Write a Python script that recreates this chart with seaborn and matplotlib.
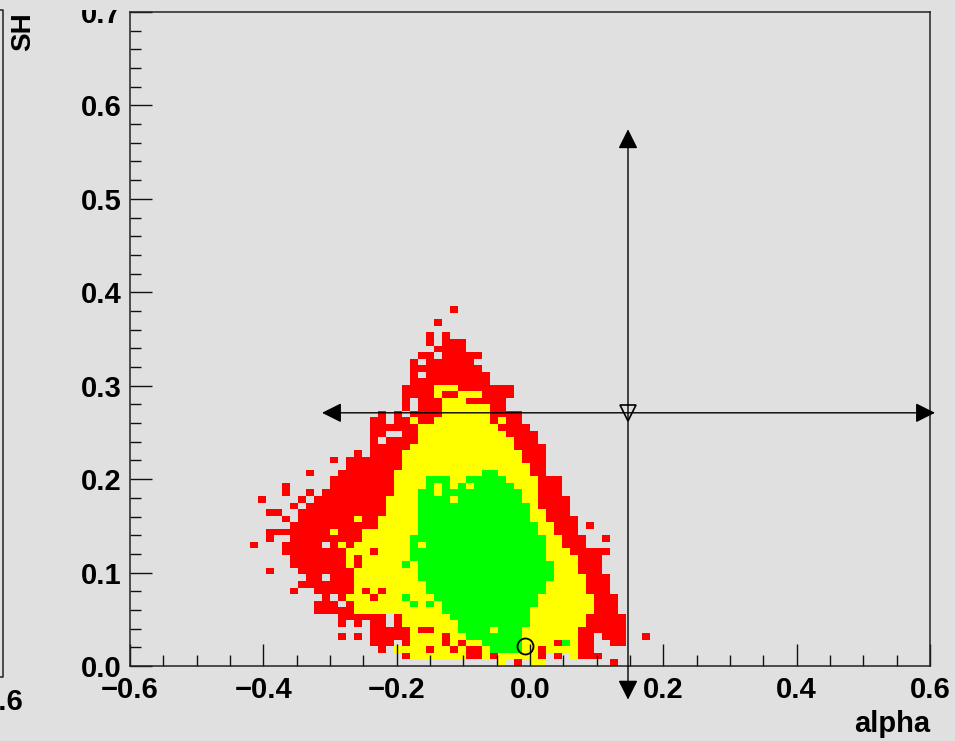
import numpy as np
import pandas as pd
import matplotlib
matplotlib.use("Agg")
import matplotlib.pyplot as plt
from matplotlib.colors import ListedColormap
from matplotlib.lines import Line2D
from matplotlib.patches import Rectangle
from matplotlib.ticker import MultipleLocator, FuncFormatter
import seaborn as sns

# ---------------- data ----------------
# 2D histogram: 100 x-bins over [-0.6, 0.6], 100 y-bins over [0, 0.7]
X_LO, X_HI, NX = -0.6, 0.6, 100
Y_LO, Y_HI, NY = 0.0, 0.7, 100
COL0 = 15  # x-bin index of column 0 in the rows below

# one entry per y-bin, bottom (bin 0) to top (bin 54)
# start column + run-length pattern: r = red (1), y = yellow (2), g = green (3), . = empty
row_start = [31, 19, 16, 15, 11, 15, 11, 11, 8, 8,
             9, 5, 6, 7, 2, 5, 5, 4, 0, 2,
             2, 5, 4, 2, 5, 1, 4, 4, 10, 7,
             12, 10, 13, 15, 15, 15, 15, 15, 16, 19,
             19, 19, 19, 20, 20, 20, 20, 21, 23, 22,
             22, 0, 23, 0, 25]
row_cells = [
    "y.r.2y8.r",                 # 0
    "r7y2ryr5yr.r.yr2r",         # 1
    "r.4yr2yry2ry4g2yr4y2r",     # 2
    "3r.r4yryr2y5g4yrgy2r2.2r",  # 3
    "r.r.5r4yr2y7g7y2r.3r2.r",   # 4
    "5ry2r3y4gy3g7y6r",          # 5
    "r.r.2r.r7y9g7y5r",          # 6
    "6r.r6y10g7y5r",             # 7
    "5r11y11g8y3r",              # 8
    "3r.r7ygygy12g7y3r",         # 9
    "r.r3yr3yg3y13g7y3r",        # 10
    "r2.5ryryr5y15g5y3r",        # 11
    "7r9y15g5y3r",               # 12
    "2r.3r8y17g4y3r",            # 13
    "r3.7r8y17g3y3r",            # 14
    "7ryr5ygy17g3y3r",           # 15
    "7ryr6y17g4y3r",             # 16
    "8r3yr4y17g3y5r",            # 17
    "r3.5r.ryr7ygy15g2y3r",      # 18
    "r2.9r6y17g2y3r2.r",         # 19
    "8ry3r7y15g2y3r",            # 20
    "11r5y15g2y3r.r",            # 21
    "r.7ry2r5y14g2y4r",          # 22
    "2r2.11r4y14g2y3r",          # 23
    "r.10r4y14gy4r",             # 24
    "r4.r.9r4y4gy8g2y4r",        # 25
    "r2.r.9r3y2gy10g2y3r",       # 26
    "r5.8r4ygygygy5g3y3r",       # 27
    "8r4y3g2y5g4y3r",            # 28
    "r3.7r11y2g4y2r",            # 29
    "7r16y2r",                   # 30
    "r.7r15y3r",                 # 31
    "r.4r15y3r",                 # 32
    "5r13y4r",                   # 33
    "r.4r12y3r",                 # 34
    "2r2.2r11y4r",               # 35
    "6r10y4r",                   # 36
    "2r.2ry2r7yry2r",            # 37
    "r.r.4r6y4r",                # 38
    "r.3r6y2r",                  # 39
    "r.3r3y5r",                  # 40
    "4ry2r3y4r",                 # 41
    "4r3y7r",                    # 42
    "10r",                       # 43
    "r.8r",                      # 44
    "9r",                        # 45
    "r.6r",                      # 46
    "2r.5r",                     # 47
    "4r",                        # 48
    "r.3r",                      # 49
    "r.r",                       # 50
    "",                          # 51
    "r",                         # 52
    "",                          # 53
    "r",                         # 54
]
level_of = {"r": 1, "y": 2, "g": 3}
level_colors = ["#ff0000", "#ffff00", "#00ff00"]

best_point = (-0.0075, 0.021)     # open circle
cut_alpha, cut_sh = 0.147, 0.271  # crossing (open triangle)
h_arrow_x = (-0.312, 0.6075)
v_arrow_y = (0.5745, -0.036)

x_major = [-0.6, -0.4, -0.2, 0.0, 0.2, 0.4, 0.6]
y_major = [0.0, 0.1, 0.2, 0.3, 0.4, 0.5, 0.6, 0.7]
x_title, y_title = "alpha", "SH"

# ---------------- build table ----------------
def decode(rle):
    out, num = [], ""
    for ch in rle:
        if ch.isdigit():
            num += ch
        else:
            out.append(ch * int(num or 1))
            num = ""
    return "".join(out)

dx = (X_HI - X_LO) / NX
dy = (Y_HI - Y_LO) / NY
recs = []
for r, (s, rle) in enumerate(zip(row_start, row_cells)):
    for k, ch in enumerate(decode(rle)):
        if ch in level_of:
            xi = COL0 + s + k
            recs.append((X_LO + (xi + 0.5) * dx, Y_LO + (r + 0.5) * dy, level_of[ch]))
df = pd.DataFrame(recs, columns=["alpha", "SH", "level"])

xedges = np.linspace(X_LO, X_HI, NX + 1)
yedges = np.linspace(Y_LO, Y_HI, NY + 1)

# ---------------- figure ----------------
BG = "#e0e0e0"
plt.rcParams["font.family"] = ["Liberation Sans", "DejaVu Sans"]
plt.rcParams["font.weight"] = "bold"
W, H = 955, 741
fig = plt.figure(figsize=(W / 100, H / 100), dpi=100, facecolor=BG)
ax = fig.add_axes([130 / W, 75 / H, 800 / W, 654 / H])
ax.set_facecolor(BG)

sns.histplot(data=df, x="alpha", y="SH", weights="level",
             bins=[xedges, yedges], cmap=ListedColormap(level_colors),
             vmin=0.5, vmax=3.5, cbar=False, ax=ax, zorder=1)

ax.set_xlim(X_LO, X_HI)
ax.set_ylim(Y_LO, Y_HI)
ax.set_xlabel("")
ax.set_ylabel("")

ax.xaxis.set_major_locator(plt.FixedLocator(x_major))
ax.yaxis.set_major_locator(plt.FixedLocator(y_major))
ax.xaxis.set_minor_locator(MultipleLocator(0.05))
ax.yaxis.set_minor_locator(MultipleLocator(0.02))
fmt = FuncFormatter(lambda v, p: ("%.1f" % (0.0 if abs(v) < 1e-9 else v)).replace("-", "\u2212"))
ax.xaxis.set_major_formatter(fmt)
ax.yaxis.set_major_formatter(fmt)
ax.tick_params(which="both", direction="in", top=False, right=False,
               color="#111111", width=1.0)
ax.tick_params(which="major", length=15.5, labelsize=21)
ax.tick_params(which="minor", length=8)
ax.tick_params(axis="x", which="major", pad=7.5)
ax.tick_params(axis="y", which="major", pad=6)
for lab in ax.get_xticklabels() + ax.get_yticklabels():
    lab.set_fontweight("bold")
for sp in ax.spines.values():
    sp.set_color("#222222")
    sp.set_linewidth(1.1)

# cut-line arrows
arrow_style = "<|-|>,head_length=0.4,head_width=0.2"
ax.annotate("", xy=(h_arrow_x[1], cut_sh), xytext=(h_arrow_x[0], cut_sh),
            arrowprops=dict(arrowstyle=arrow_style, color="black", lw=1.0,
                            shrinkA=0, shrinkB=0, mutation_scale=30),
            annotation_clip=False, zorder=5)
ax.annotate("", xy=(cut_alpha, v_arrow_y[1]), xytext=(cut_alpha, v_arrow_y[0]),
            arrowprops=dict(arrowstyle=arrow_style, color="black", lw=1.0,
                            shrinkA=0, shrinkB=0, mutation_scale=30),
            annotation_clip=False, zorder=5)
ax.plot([cut_alpha], [cut_sh], marker="v", ms=12, mfc="none", mec="black",
        mew=1.2, zorder=6, clip_on=False)
ax.plot([best_point[0]], [best_point[1]], marker="o", ms=11.5, mfc="none",
        mec="black", mew=1.3, zorder=6, clip_on=False)

# axis titles
fig.text(930 / W, 1 - 732 / H, x_title, ha="right", va="baseline",
         fontsize=21, fontweight="bold")
fig.text(23 / W, 1 - 12 / H, y_title, rotation=90, ha="center", va="top",
         fontsize=20, fontweight="bold")

# neighbouring pad remnants at the left edge
fig.add_artist(Line2D([0 / W, 2.5 / W, 2.5 / W, 0 / W],
                      [1 - 10 / H, 1 - 10 / H, 1 - 677 / H, 1 - 677 / H],
                      transform=fig.transFigure, color="#222222", lw=1.1))
fig.text(3 / W, 1 - 688 / H, "0.6", ha="center", va="top",
         fontsize=21, fontweight="bold")

# top strip of the canvas hides the upper half of the top y label
fig.add_artist(Rectangle((40 / W, 1 - 10 / H), 90 / W, 10 / H,
                         transform=fig.transFigure, facecolor=BG,
                         edgecolor="none", zorder=10))

fig.savefig("out.png", dpi=100, facecolor=BG)
